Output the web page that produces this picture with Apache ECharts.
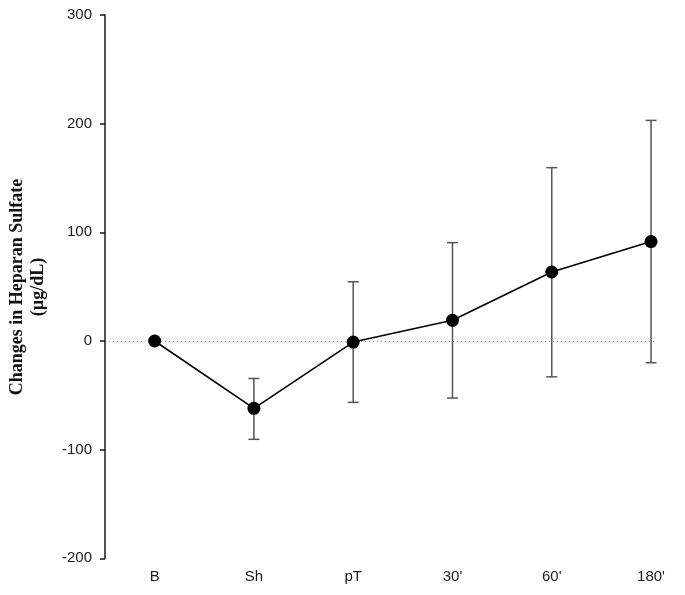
<!DOCTYPE html>
<html>
<head>
<meta charset="utf-8">
<script src="https://cdn.jsdelivr.net/npm/echarts@6/dist/echarts.min.js"></script>
<style>html,body{margin:0;padding:0;background:#fff;}#chart{width:685px;height:595px;}</style>
</head>
<body>
<div id="chart"></div>
<script>
var categories = ["B", "Sh", "pT", "30'", "60'", "180'"];
var meanValues = [0, -62, -1, 19, 63.5, 91.5];
var lowerValues = [0, -90.5, -56.5, -52.5, -33, -20];
var upperValues = [0, -34.5, 54.5, 90.5, 159.5, 203];
var yTicks = [-200, -100, 0, 100, 200, 300];
var yTitle = "Changes in Heparan Sulfate\n(\u00b5g/dL)";

var chart = echarts.init(document.getElementById('chart'), null, {renderer: 'canvas'});

var lineData = meanValues.map(function (v, i) { return [i, v]; });
var errData = meanValues.map(function (v, i) { return [i, lowerValues[i], upperValues[i]]; });

var option = {
  animation: false,
  backgroundColor: '#ffffff',
  grid: {left: 105, right: 29, top: 15, bottom: 36.7, containLabel: false},
  xAxis: {
    type: 'value',
    min: -0.5,
    max: 5.05,
    axisLine: {show: false, onZero: false},
    axisTick: {show: false},
    splitLine: {show: false},
    axisLabel: {
      customValues: [0, 1, 2, 3, 4, 5],
      formatter: function (v) { return categories[Math.round(v)]; },
      fontFamily: 'Liberation Sans, Arial, sans-serif',
      fontSize: 15,
      color: '#1a1a1a',
      margin: 11
    }
  },
  yAxis: {
    type: 'value',
    min: yTicks[0],
    max: yTicks[yTicks.length - 1],
    interval: 100,
    axisLine: {show: true, onZero: false, lineStyle: {color: '#1a1a1a', width: 1.5}},
    axisTick: {show: true, inside: false, length: 5, lineStyle: {color: '#1a1a1a', width: 1.5}},
    splitLine: {show: false},
    axisLabel: {
      fontFamily: 'Liberation Sans, Arial, sans-serif',
      fontSize: 15,
      color: '#1a1a1a',
      margin: 13
    }
  },
  graphic: [{
    type: 'text',
    x: 27.5,
    y: 287,
    rotation: Math.PI / 2,
    style: {
      text: yTitle,
      fontFamily: 'Liberation Serif, Times New Roman, serif',
      fontWeight: 'bold',
      fontSize: 18,
      lineHeight: 21,
      fill: '#111',
      align: 'center',
      verticalAlign: 'middle'
    }
  }],
  series: [
    {
      type: 'custom',
      z: 1,
      data: errData,
      renderItem: function (params, api) {
        var x = api.value(0);
        var lo = api.coord([x, api.value(1)]);
        var hi = api.coord([x, api.value(2)]);
        if (Math.abs(lo[1] - hi[1]) < 1) { return {type: 'group', children: []}; }
        var w = 5.5;
        var style = {stroke: '#555', lineWidth: 1.5};
        return {
          type: 'group',
          children: [
            {type: 'line', shape: {x1: lo[0], y1: lo[1], x2: hi[0], y2: hi[1]}, style: style},
            {type: 'line', shape: {x1: lo[0] - w, y1: lo[1], x2: lo[0] + w, y2: lo[1]}, style: style},
            {type: 'line', shape: {x1: hi[0] - w, y1: hi[1], x2: hi[0] + w, y2: hi[1]}, style: style}
          ]
        };
      }
    },
    {
      type: 'line',
      z: 3,
      data: lineData,
      symbol: 'circle',
      symbolSize: 13,
      showSymbol: true,
      lineStyle: {color: '#000', width: 1.6},
      itemStyle: {color: '#000'},
      markLine: {
        silent: true,
        symbol: 'none',
        label: {show: false},
        lineStyle: {color: '#999', type: [1, 3], width: 1},
        data: [{yAxis: 0}],
        z: 0
      }
    }
  ]
};
chart.setOption(option);
</script>
</body>
</html>
